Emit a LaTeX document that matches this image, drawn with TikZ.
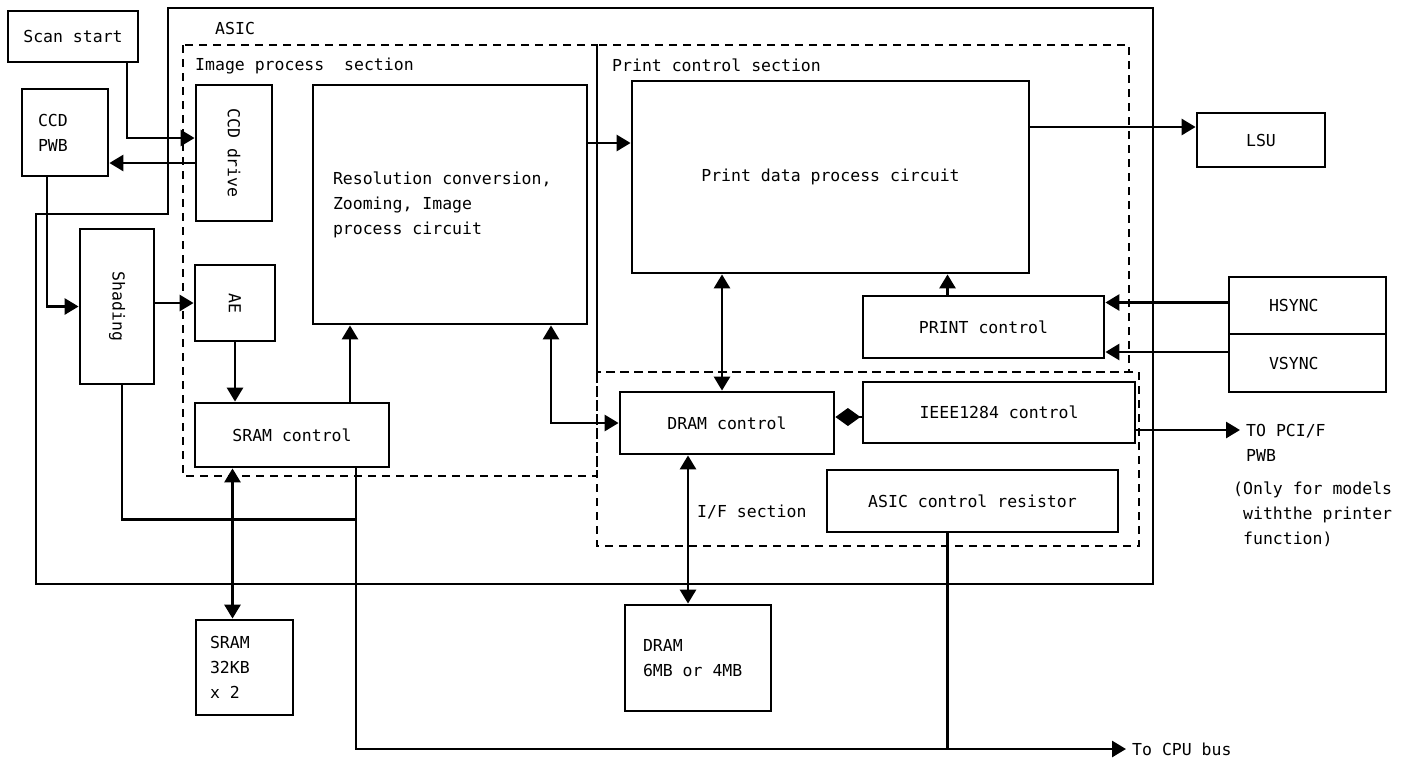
\documentclass[tikz,border=0pt]{standalone}
\usepackage{fontspec}
\setmainfont{DejaVu Sans Mono}[WordSpace={1,0,0}]
\usepackage{graphicx}
\usetikzlibrary{arrows.meta,positioning}

\begin{document}
\begin{tikzpicture}[x=1pt,y=-1pt,
  >={Triangle[length=14pt,width=16pt]},
  line/.style={draw=black,line width=2.8pt},
  arr/.style={line,->},
  dbl/.style={line,<->},
  sec/.style={draw=black,line width=2.4pt,dash pattern=on 8pt off 6pt},
  blk/.style={line,rectangle,inner sep=0pt,font=\fontsize{16.5}{25}\selectfont},
  lbl/.style={inner sep=0pt,font=\fontsize{16.5}{25}\selectfont}]
\useasboundingbox (0,0) rectangle (1411,761);
% ASIC outline and sections:
\draw[line] (168,8) -| (1153,584) -| (36,214) -| cycle;
\draw[sec] (183,45) rectangle (597,476);
\draw[sec] (597,45) rectangle (1129,372);
\draw[sec] (597,372) rectangle (1139,546);
\node[lbl,anchor=west] (asiclbl) at (215,28) {ASIC};
\node[lbl,anchor=west] (imglbl) at (195,66) {Image process\ \ section};
\node[lbl,anchor=west] (prtlbl) at (612,65) {Print control section};
\node[lbl,anchor=west] (iflbl) at (697,512) {I/F section};
% blocks:
\node[blk,minimum width=130pt,minimum height=51pt] (scan) at (73,36.5) {Scan start};
\node[blk,minimum width=86pt,minimum height=87pt,text width=54pt,align=flush left] (ccdpwb) at (65,132.5) {CCD\\PWB};
\node[blk,minimum width=76pt,minimum height=136pt] (ccddrive) at (234,153) {\rotatebox{-90}{CCD drive}};
\node[blk,minimum width=274pt,minimum height=239pt,text width=234pt,align=flush left] (reso) at (450,204.5) {Resolution conversion,\\Zooming, Image\\process circuit};
\node[blk,minimum width=74pt,minimum height=155pt] (shading) at (117,306.5) {\rotatebox{-90}{Shading}};
\node[blk,minimum width=80pt,minimum height=76pt] (ae) at (235,303) {\rotatebox{-90}{AE}};
\node[blk,minimum width=194pt,minimum height=64pt] (sramctl) at (292,435) {SRAM control};
\node[blk,minimum width=97pt,minimum height=95pt,text width=69pt,align=flush left] (sram) at (244.5,667.5) {SRAM\\32KB\\x 2};
\node[blk,minimum width=397pt,minimum height=192pt] (prdata) at (830.5,177) {Print data process circuit};
\node[blk,minimum width=128pt,minimum height=54pt] (lsu) at (1261,140) {LSU};
\node[blk,minimum width=241pt,minimum height=62pt] (prctl) at (983.5,327) {PRINT control};
\node[blk,minimum width=157pt,minimum height=57pt,text width=77pt,align=flush left] (hsync) at (1307.5,305.5) {HSYNC};
\node[blk,minimum width=157pt,minimum height=58pt,text width=77pt,align=flush left] (vsync) at (1307.5,363) {VSYNC};
\node[blk,minimum width=214pt,minimum height=62pt] (dramctl) at (727,423) {DRAM control};
\node[blk,minimum width=272pt,minimum height=61pt] (ieee) at (999,412.5) {IEEE1284 control};
\node[blk,minimum width=291pt,minimum height=62pt] (asicreg) at (972.5,501) {ASIC control resistor};
\node[blk,minimum width=146pt,minimum height=106pt,text width=110pt,align=flush left] (dram) at (698,658) {DRAM\\6MB or 4MB};
% outside texts:
\node[lbl,anchor=west,align=left,inner xsep=6pt] (pcif) at (1240,442.5) {TO PCI/F\\PWB};
\node[lbl,anchor=west,align=left] (onlylbl) at (1233,514) {(Only for models\\\hphantom{x}withthe printer\\\hphantom{x}function)};
\node[lbl,anchor=west,inner xsep=6pt] (cpubus) at (1126,749) {To CPU bus};
% connectors:
\draw[arr] ([xshift=54pt]scan.south) |- ([yshift=15pt]ccddrive.west);
\draw[arr] ([yshift=-10pt]ccddrive.west) -- ([yshift=-10pt]ccddrive.west -| ccdpwb.east);
\draw[arr] ([xshift=-18pt]ccdpwb.south) |- (shading.west);
\draw[arr] (shading.east |- ae.west) -- (ae.west);
\draw[arr] (ae.south) -- (ae.south |- sramctl.north);
\draw[arr] ([xshift=58pt]sramctl.north) -- ([xshift=58pt]sramctl.north |- reso.south);
\draw[dbl] ([xshift=-12pt]sram.north |- sramctl.south) -- ([xshift=-12pt]sram.north);
\draw[line] ([xshift=5pt]shading.south) |- ([xshift=64pt,yshift=-51pt]sramctl.south);
\draw[arr] ([xshift=64pt]sramctl.south) |- (cpubus.west);
\draw[line] ([xshift=-25pt]asicreg.south) -- ([xshift=-25pt]asicreg.south |- cpubus.west);
\draw[arr] ([yshift=34pt]prdata.west -| reso.east) -- ([yshift=34pt]prdata.west);
\draw[arr] ([yshift=13pt]lsu.west -| prdata.east) -- ([yshift=13pt]lsu.west);
\draw[dbl] ([xshift=-5pt]dramctl.north |- prdata.south) -- ([xshift=-5pt]dramctl.north);
\draw[arr] ([xshift=-36pt]prctl.north) -- ([xshift=-36pt]prctl.north |- prdata.south);
\draw[arr] ([yshift=3pt]hsync.west) -- ([yshift=3pt]hsync.west -| prctl.east);
\draw[arr] ([yshift=11pt]vsync.west) -- ([yshift=11pt]vsync.west -| prctl.east);
\draw[dbl] ([xshift=101pt]reso.south) |- (dramctl.west);
\draw[line,{Diamond[length=25pt,width=18pt]}-] ([yshift=6pt]dramctl.east) -- ([yshift=6pt]dramctl.east -| ieee.west);
\draw[arr] ([yshift=-17.5pt]ieee.east) -- ([yshift=-17.5pt]ieee.east -| pcif.west);
\draw[dbl] ([xshift=-39pt]dramctl.south) -- ([xshift=-39pt]dramctl.south |- dram.north);
\end{tikzpicture}
\end{document}
